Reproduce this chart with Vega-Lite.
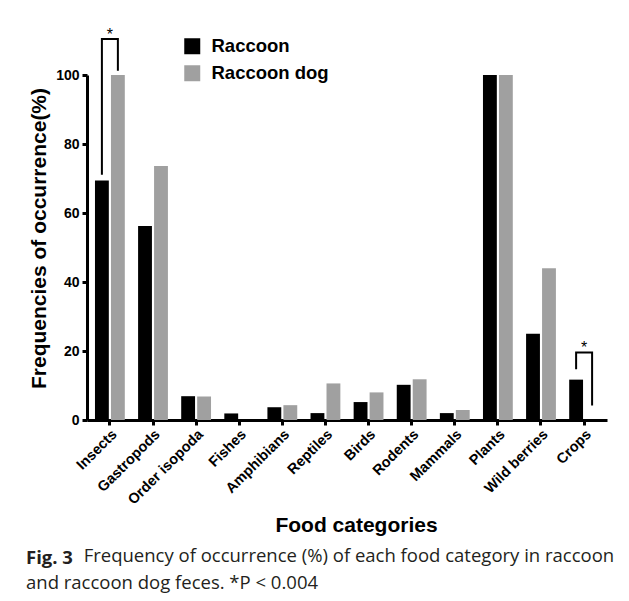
{
  "$schema": "https://vega.github.io/schema/vega-lite/v6.json",
  "width": 520,
  "height": 345,
  "autosize": {"type": "none"},
  "padding": {"left": 87, "top": 75, "right": 22, "bottom": 181},
  "background": "white",
  "config": {
    "view": {"stroke": null},
    "font": "Liberation Sans",
    "axis": {
      "domainColor": "#000000",
      "domainWidth": 3,
      "tickColor": "#000000",
      "tickWidth": 3,
      "tickSize": 5,
      "labelFont": "Liberation Sans",
      "labelFontWeight": "bold",
      "labelColor": "#000000",
      "titleFont": "Liberation Sans",
      "titleFontWeight": "bold",
      "titleColor": "#000000",
      "grid": false
    }
  },
  "title": {
    "text": "Fig. 3",
    "subtitle": ["\u200b\u00a0\u00a0\u00a0\u00a0\u00a0\u00a0\u00a0\u00a0\u00a0\u00a0\u00a0\u00a0Frequency of occurrence (%) of each food category in raccoon", "and raccoon dog feces. *P < 0.004"],
    "orient": "bottom",
    "anchor": "start",
    "frame": "group",
    "dx": -61,
    "offset": 13,
    "font": "Open Sans",
    "fontSize": 18.5,
    "fontWeight": "bold",
    "color": "#231f20",
    "subtitleFont": "Open Sans",
    "subtitleFontSize": 18.5,
    "subtitleFontWeight": "normal",
    "subtitleColor": "#231f20",
    "subtitleLineHeight": 27,
    "subtitlePadding": -20.5
  },
  "datasets": {
    "bars": [
      {"category": "Insects", "series": "Raccoon", "value": 69.4},
      {"category": "Insects", "series": "Raccoon dog", "value": 100},
      {"category": "Gastropods", "series": "Raccoon", "value": 56.2},
      {"category": "Gastropods", "series": "Raccoon dog", "value": 73.6},
      {"category": "Order isopoda", "series": "Raccoon", "value": 6.9},
      {"category": "Order isopoda", "series": "Raccoon dog", "value": 6.8},
      {"category": "Fishes", "series": "Raccoon", "value": 1.9},
      {"category": "Fishes", "series": "Raccoon dog", "value": 0},
      {"category": "Amphibians", "series": "Raccoon", "value": 3.7},
      {"category": "Amphibians", "series": "Raccoon dog", "value": 4.3},
      {"category": "Reptiles", "series": "Raccoon", "value": 2.0},
      {"category": "Reptiles", "series": "Raccoon dog", "value": 10.6},
      {"category": "Birds", "series": "Raccoon", "value": 5.2},
      {"category": "Birds", "series": "Raccoon dog", "value": 8.0},
      {"category": "Rodents", "series": "Raccoon", "value": 10.2},
      {"category": "Rodents", "series": "Raccoon dog", "value": 11.8},
      {"category": "Mammals", "series": "Raccoon", "value": 2.0},
      {"category": "Mammals", "series": "Raccoon dog", "value": 2.9},
      {"category": "Plants", "series": "Raccoon", "value": 100},
      {"category": "Plants", "series": "Raccoon dog", "value": 100},
      {"category": "Wild berries", "series": "Raccoon", "value": 25.0},
      {"category": "Wild berries", "series": "Raccoon dog", "value": 44.0},
      {"category": "Crops", "series": "Raccoon", "value": 11.7},
      {"category": "Crops", "series": "Raccoon dog", "value": 0}
    ],
    "brackets": [
      {"bracket": "a", "step": 1, "category": "Insects", "series": "Raccoon", "value": 71.1},
      {"bracket": "a", "step": 2, "category": "Insects", "series": "Raccoon", "value": 110.4},
      {"bracket": "a", "step": 3, "category": "Insects", "series": "Raccoon dog", "value": 110.4},
      {"bracket": "a", "step": 4, "category": "Insects", "series": "Raccoon dog", "value": 101.2},
      {"bracket": "b", "step": 1, "category": "Crops", "series": "Raccoon", "value": 14.7},
      {"bracket": "b", "step": 2, "category": "Crops", "series": "Raccoon", "value": 19.6},
      {"bracket": "b", "step": 3, "category": "Crops", "series": "Raccoon dog", "value": 19.6},
      {"bracket": "b", "step": 4, "category": "Crops", "series": "Raccoon dog", "value": 4.2}
    ],
    "stars": [
      {"category": "Insects", "value": 110.4, "label": "*"},
      {"category": "Crops", "value": 19.6, "label": "*"}
    ]
  },
  "layer": [
    {
      "data": {"name": "bars"},
      "mark": {"type": "bar"},
      "encoding": {
        "x": {
          "field": "category", "type": "nominal",
          "scale": {"domain": ["Insects", "Gastropods", "Order isopoda", "Fishes", "Amphibians", "Reptiles", "Birds", "Rodents", "Mammals", "Plants", "Wild berries", "Crops"], "paddingInner": 0.308, "paddingOuter": 0.185},
          "axis": {"title": "Food categories", "titleFontSize": 21, "titlePadding": 8, "labelAngle": -45, "labelFontSize": 14.5, "labelPadding": 2, "titleX": 269}
        },
        "xOffset": {"field": "series", "type": "nominal", "scale": {"domain": ["Raccoon", "Raccoon dog"], "paddingInner": 0.133}},
        "y": {
          "field": "value", "type": "quantitative",
          "scale": {"domain": [0, 100]},
          "axis": {"title": "Frequencies of occurrence(%)", "titleFontSize": 21, "titlePadding": 6, "titleY": 163, "values": [0, 20, 40, 60, 80, 100], "labelFontSize": 14, "labelPadding": 3}
        },
        "color": {
          "field": "series", "type": "nominal",
          "scale": {"domain": ["Raccoon", "Raccoon dog"], "range": ["#000000", "#a0a0a0"]},
          "legend": {"title": null, "orient": "none", "legendX": 96, "legendY": -38, "symbolType": "square", "symbolSize": 256, "symbolStrokeWidth": 0, "labelFont": "Liberation Sans", "labelFontWeight": "bold", "labelFontSize": 18.5, "labelColor": "#000000", "labelOffset": 10, "rowPadding": 8, "padding": 0}
        }
      }
    },
    {
      "data": {"name": "brackets"},
      "mark": {"type": "line", "color": "#000000", "strokeWidth": 2},
      "encoding": {
        "x": {"field": "category", "type": "nominal"},
        "xOffset": {"field": "series", "type": "nominal"},
        "y": {"field": "value", "type": "quantitative"},
        "detail": {"field": "bracket"},
        "order": {"field": "step", "type": "quantitative"}
      }
    },
    {
      "data": {"name": "stars"},
      "mark": {"type": "text", "baseline": "bottom", "dy": 4, "fontSize": 16, "color": "#000000", "font": "Liberation Sans"},
      "encoding": {
        "x": {"field": "category", "type": "nominal"},
        "y": {"field": "value", "type": "quantitative"},
        "text": {"field": "label"}
      }
    }
  ]
}
